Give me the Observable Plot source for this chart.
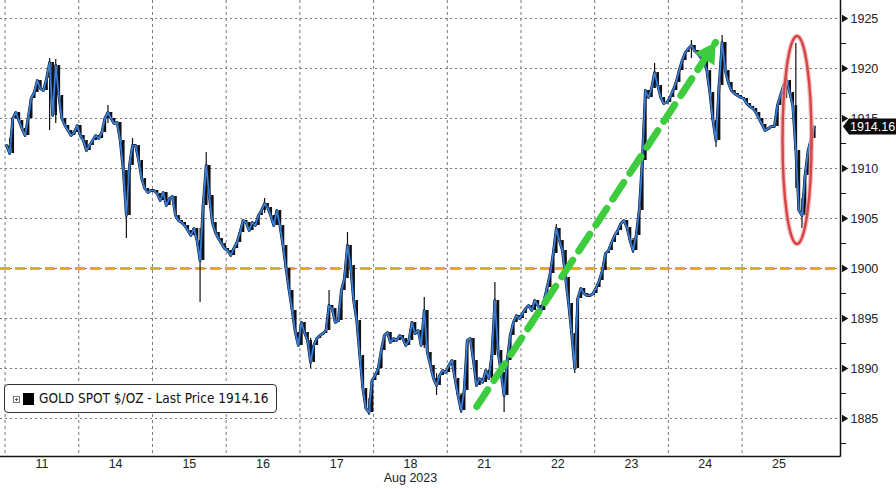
<!DOCTYPE html>
<html>
<head>
<meta charset="utf-8">
<script src="https://cdn.jsdelivr.net/npm/d3@7"></script>
<script src="https://cdn.jsdelivr.net/npm/@observablehq/plot@0.6"></script>
<style>
  body { margin: 0; background: #fff; }
  #wrap { position: relative; width: 896px; height: 489px; overflow: hidden; background: #fff; }
  #legend { position: absolute; left: 4px; top: 384px; width: 273px; height: 29px; box-sizing: border-box;
    border: 1px solid #333; border-radius: 4px; background: #fff; display: flex; align-items: center;
    font-family: "DejaVu Sans Condensed", "Liberation Sans", sans-serif; font-size: 13.5px; color: #111; }
  #legend .plus { position: absolute; left: 8px; top: 11px; width: 5px; height: 5px; border: 1px solid #777; }
  #legend .plus::before { content: ""; position: absolute; left: 1px; top: 2px; width: 3px; height: 1px; background: #555; }
  #legend .plus::after { content: ""; position: absolute; left: 2px; top: 1px; width: 1px; height: 3px; background: #555; }
  #legend .sq { position: absolute; left: 18px; top: 8px; width: 11px; height: 12px; background: #000; }
  #legend .txt { position: absolute; left: 34px; top: 5px; white-space: nowrap; }
</style>
</head>
<body>
<div id="wrap">
  <div id="legend"><span class="plus"></span><span class="sq"></span><span class="txt">GOLD SPOT $/OZ - Last Price 1914.16</span></div>
</div>
<script>
// Trading days (Aug 2023)
const dayLabels = ["11", "14", "15", "16", "17", "18", "21", "22", "23", "24", "25"];
const monthLabel = "Aug 2023";

// Intraday (hourly-ish) gold spot prices, $/oz
const aug11 = [1912.3, 1911.5, 1915.0, 1915.6, 1914.8, 1914.0, 1913.3, 1915.0, 1917.0, 1917.6, 1918.8, 1918.0, 1917.8, 1919.0, 1920.6, 1915.3, 1920.3, 1917.3, 1915.0, 1914.3, 1913.8, 1913.3, 1913.6, 1914.3];
const aug14 = [1913.3, 1912.8, 1911.8, 1912.3, 1912.8, 1913.3, 1913.0, 1913.6, 1915.0, 1915.6, 1915.0, 1914.5, 1914.6, 1912.8, 1909.8, 1905.3, 1910.3, 1912.3, 1912.3, 1910.8, 1909.0, 1908.0, 1907.6, 1907.8];
const aug15 = [1907.8, 1907.5, 1906.8, 1907.6, 1906.3, 1907.0, 1907.2, 1905.3, 1904.8, 1904.6, 1904.3, 1903.8, 1903.3, 1904.0, 1902.8, 1900.8, 1906.3, 1910.3, 1907.3, 1904.6, 1903.6, 1903.0, 1902.5, 1902.0];
const aug16 = [1901.8, 1901.3, 1902.0, 1902.6, 1903.6, 1904.8, 1904.6, 1903.8, 1904.6, 1904.3, 1905.3, 1905.8, 1906.5, 1906.1, 1905.3, 1904.3, 1905.8, 1904.3, 1902.3, 1900.0, 1897.8, 1895.8, 1893.6, 1892.3];
const aug17 = [1894.6, 1893.6, 1892.8, 1890.6, 1892.3, 1893.0, 1893.3, 1893.5, 1893.8, 1896.3, 1896.0, 1894.6, 1894.8, 1897.8, 1899.0, 1902.3, 1900.3, 1896.8, 1894.8, 1891.3, 1888.0, 1886.0, 1885.6, 1888.8];
const aug18 = [1889.3, 1890.0, 1891.8, 1893.3, 1893.6, 1892.6, 1893.0, 1892.8, 1893.3, 1893.0, 1892.3, 1892.8, 1894.6, 1893.5, 1893.8, 1892.3, 1895.8, 1891.6, 1890.3, 1889.0, 1888.3, 1889.3, 1889.8, 1889.6];
const aug21 = [1890.3, 1890.8, 1889.0, 1887.3, 1885.8, 1887.8, 1892.8, 1893.0, 1890.8, 1888.3, 1889.0, 1888.6, 1889.8, 1889.0, 1891.3, 1896.8, 1891.8, 1889.6, 1887.3, 1890.8, 1893.3, 1894.6, 1895.3, 1895.0];
const aug22 = [1895.5, 1896.0, 1896.3, 1895.8, 1896.8, 1896.3, 1895.8, 1896.8, 1898.1, 1899.5, 1901.5, 1904.0, 1902.8, 1901.8, 1899.1, 1896.5, 1893.5, 1890.0, 1897.0, 1898.0, 1897.5, 1897.3, 1897.3, 1897.5];
const aug23 = [1898.1, 1898.8, 1899.8, 1901.5, 1901.8, 1902.6, 1903.3, 1903.8, 1904.5, 1904.8, 1904.1, 1902.8, 1901.8, 1903.3, 1905.8, 1910.8, 1917.8, 1917.1, 1918.0, 1919.6, 1918.3, 1917.1, 1916.5, 1916.6];
const aug24 = [1917.1, 1917.8, 1918.6, 1919.8, 1920.8, 1921.6, 1922.0, 1922.3, 1921.8, 1921.5, 1921.1, 1920.8, 1919.8, 1917.6, 1914.8, 1912.8, 1918.3, 1922.6, 1919.8, 1918.6, 1917.8, 1917.5, 1917.3, 1917.1];
const aug25 = [1917.0, 1916.5, 1916.2, 1916.0, 1915.6, 1915.0, 1914.4, 1913.8, 1914.0, 1914.2, 1914.2, 1916.3, 1917.3, 1918.3, 1918.8, 1917.6, 1916.3, 1911.8, 1905.8, 1905.3, 1909.3, 1911.8, 1913.0, 1914.16];

// Candle wicks: [day index, hour slot, low, high]
const wicks = [
  [0, 1, 1911.3, 1913.0], [0, 14, 1913.8, 1921.0], [0, 16, 1914.5, 1920.9],
  [1, 9, 1914.5, 1916.3], [1, 15, 1903.0, 1909.5], [1, 17, 1911.0, 1913.0],
  [2, 15, 1896.6, 1904.0], [2, 17, 1908.0, 1911.6], [3, 12, 1905.5, 1907.0],
  [4, 3, 1890.0, 1893.0], [4, 9, 1895.0, 1897.8], [4, 15, 1900.5, 1903.6], [4, 22, 1885.3, 1887.0],
  [5, 16, 1892.0, 1897.1], [5, 20, 1887.3, 1889.5],
  [6, 4, 1885.5, 1887.5], [6, 15, 1893.0, 1898.6], [6, 18, 1885.6, 1889.0],
  [7, 11, 1902.0, 1904.4], [7, 17, 1889.5, 1892.0],
  [8, 12, 1901.5, 1903.0], [8, 19, 1918.5, 1920.5],
  [9, 7, 1921.0, 1922.8], [9, 15, 1912.1, 1914.5], [9, 17, 1920.5, 1923.3],
  [10, 14, 1917.0, 1920.3], [10, 17, 1908.0, 1922.5], [10, 19, 1904.0, 1907.0]
];

const majorTicks = [1885, 1890, 1895, 1900, 1905, 1910, 1915, 1920, 1925];
const minorTicks = [1882.5, 1887.5, 1892.5, 1897.5, 1902.5, 1907.5, 1912.5, 1917.5, 1922.5];
const lastPrice = 1914.16;
const refLevel = 1900;
// annotations (in day-index / price units)
const arrowFrom = [6.40, 1886.2];
const arrowTo = [9.64, 1922.6];
const ellipseCenter = [10.752, 1912.8];

const daily = [aug11, aug14, aug15, aug16, aug17, aug18, aug21, aug22, aug23, aug24, aug25];
const series = daily.flatMap((vals, d) => vals.map((p, i) => ({t: d + (i + 0.5) / vals.length, price: p})));
// candle bodies: open = previous close
const candles = series.map((r, i) => ({t: r.t, open: i ? series[i - 1].price : r.price, close: r.price}));
const wickRows = wicks.map(([d, s, lo, hi]) => ({t: d + (s + 0.5) / 24, lo, hi}));
const dayBounds = dayLabels.map((_, i) => i);

const FONT = '"Liberation Sans", sans-serif';
const svgNS = "http://www.w3.org/2000/svg";
function el(name, attrs) {
  const e = document.createElementNS(svgNS, name);
  for (const k in attrs) e.setAttribute(k, attrs[k]);
  return e;
}

const chart = Plot.plot({
  width: 896,
  height: 489,
  marginTop: 0,
  marginLeft: 0,
  marginRight: 56,
  marginBottom: 33,
  style: {background: "#fff", fontFamily: FONT, overflow: "visible"},
  x: {domain: [-0.062, 11.335], axis: null},
  y: {domain: [1881.2, 1926.8], axis: null},
  marks: [
    Plot.ruleY(majorTicks, {stroke: "#7a7a7a", strokeWidth: 1, strokeDasharray: "2,3"}),
    Plot.ruleX(dayBounds, {stroke: "#7a7a7a", strokeWidth: 1, strokeDasharray: "3,3"}),
    Plot.ruleY([refLevel], {stroke: "#e6a82a", strokeWidth: 3, strokeDasharray: "10,5"}),
    Plot.ruleX(wickRows, {x: "t", y1: "lo", y2: "hi", stroke: "#111", strokeWidth: 1.2}),
    Plot.ruleX(candles, {x: "t", y1: "open", y2: "close", stroke: "#111", strokeWidth: 2.6}),
    Plot.line(series, {x: "t", y: "price", stroke: "#0c1730", strokeWidth: 2.8}),
    Plot.line(series, {x: "t", y: "price", stroke: "#3b80d6", strokeWidth: 1.7}),
    // green dashed arrow
    Plot.line([arrowFrom, arrowTo], {x: d => d[0], y: d => d[1], stroke: "#3dcc3d", strokeWidth: 7, strokeDasharray: "20,11"}),
    Plot.dot([arrowTo], {x: d => d[0], y: d => d[1], symbol: "triangle", r: 8.6, rotate: 33.3, fill: "#3dcc3d", stroke: "none", dx: -7.2, dy: 11}),
    // red ellipse
    (index, scales) => {
      const g = el("g", {});
      const cx = scales.x(ellipseCenter[0]), cy = scales.y(ellipseCenter[1]);
      g.appendChild(el("ellipse", {cx, cy, rx: 14.5, ry: 104, fill: "none", stroke: "#f2a8a8", "stroke-width": 5, opacity: 0.7}));
      g.appendChild(el("ellipse", {cx, cy, rx: 14.5, ry: 104, fill: "none", stroke: "#d64545", "stroke-width": 2.4}));
      return g;
    },
    // frame (right + bottom)
    (index, scales, values, dims) => {
      const g = el("g", {stroke: "#111", "stroke-width": 1.5});
      const r = dims.width - dims.marginRight + 0.5, b = dims.height - dims.marginBottom + 0.5;
      g.appendChild(el("line", {x1: r, x2: r, y1: 0, y2: b}));
      g.appendChild(el("line", {x1: 0, x2: r, y1: b, y2: b}));
      return g;
    },
    Plot.axisY({anchor: "right", ticks: minorTicks, tickSize: 5, tickFormat: () => "", stroke: "#111", label: null}),
    Plot.dot(majorTicks, {y: d => d, frameAnchor: "right", symbol: "triangle", rotate: 90, r: 2.7, fill: "#111", dx: 3.6}),
    Plot.axisY({anchor: "right", ticks: majorTicks, tickSize: 0, tickPadding: 10, fontSize: 12.5, fill: "#222", label: null, tickFormat: d => String(d)}),
    Plot.text(dayLabels, {x: (d, i) => i + 0.5, frameAnchor: "bottom", dy: 11, fontSize: 12.5, fill: "#222", fontFamily: FONT}),
    Plot.text([monthLabel], {x: 5.5, frameAnchor: "bottom", dy: 25, fontSize: 12.5, fill: "#222", fontFamily: FONT}),
    // last price tag
    (index, scales) => {
      const g = el("g", {});
      const y = scales.y(lastPrice);
      g.appendChild(el("path", {d: `M843,${y} L849,${y - 8} L896,${y - 8} L896,${y + 8} L849,${y + 8} Z`, fill: "#0a0a0a"}));
      const t = el("text", {x: 850, y: y, dy: "0.35em", fill: "#fff", "font-size": 12.5, "font-family": FONT, "text-anchor": "start"});
      t.textContent = lastPrice.toFixed(2);
      g.appendChild(t);
      return g;
    }
  ]
});
document.getElementById("wrap").prepend(chart);
</script>
</body>
</html>
